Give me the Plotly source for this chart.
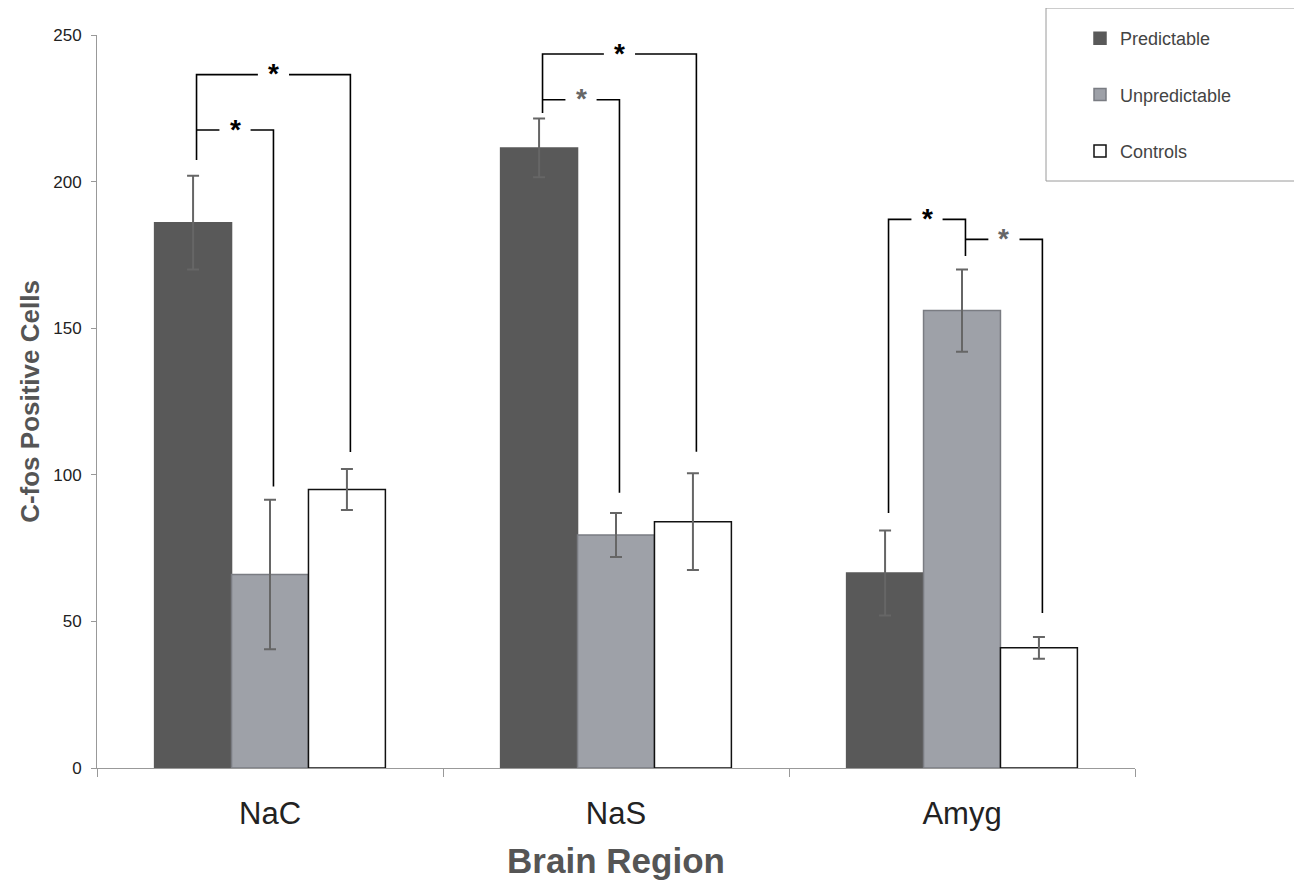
import plotly.graph_objects as go

regions = ["NaC", "NaS", "Amyg"]
series_names = ["Predictable", "Unpredictable", "Controls"]
values = {
    "Predictable": [186, 211.5, 66.5],
    "Unpredictable": [66, 79.5, 156],
    "Controls": [95, 84, 41],
}
errors = {
    "Predictable": [16, 10, 14.5],
    "Unpredictable": [25.5, 7.5, 14],
    "Controls": [7, 16.5, 3.7],
}
# significance brackets: (region index, from series, to series, top y, left-leg bottom y, right-leg bottom y, star colour)
brackets = [
    (0, 0, 2, 236.5, 207.4, 107.8, "black"),
    (0, 0, 1, 217.6, 217.6, 96.0, "black"),
    (1, 0, 2, 243.5, 223.4, 107.9, "black"),
    (1, 0, 1, 227.9, 227.9, 93.9, "#666666"),
    (2, 0, 1, 187.1, 87.0, 174.6, "black"),
    (2, 1, 2, 180.3, 180.3, 52.9, "#666666"),
]

fills = ["#595959", "#9ea1a8", "#ffffff"]
outlines = ["#595959", "#7a7c82", "#111111"]

FONT = "Liberation Sans, Arial, sans-serif"
# page body has an 8px margin, so the figure is sized/offset to compensate
W, H = 1294, 881
L, T = 89, 27
PW, PH = 1038, 733

fig = go.Figure()
for i, name in enumerate(series_names):
    fig.add_trace(go.Bar(
        name=name, x=regions, y=values[name],
        marker=dict(color=fills[i], line=dict(color=outlines[i], width=1.5)),
        error_y=dict(type="data", array=errors[name], visible=True,
                     color="#666666", thickness=2, width=6),
        legendgroup=name,
    ))

bar_w = (1 - 0.333) / 3
offsets = [-bar_w, 0, bar_w]
gap = 0.045
shapes = []
annotations = []
for (ri, s1, s2, top, lb, rb, sc) in brackets:
    x1 = ri + offsets[s1] + 0.01
    x2 = ri + offsets[s2] + 0.01
    xm = (x1 + x2) / 2
    path = (f"M {x1} {lb} L {x1} {top} L {xm - gap} {top} "
            f"M {xm + gap} {top} L {x2} {top} L {x2} {rb}")
    shapes.append(dict(type="path", path=path, xref="x", yref="y",
                       line=dict(color="black", width=1.6)))
    annotations.append(dict(x=xm, y=top, xref="x", yref="y", text="<b>*</b>",
                            showarrow=False, font=dict(size=28, color=sc, family=FONT),
                            yanchor="middle", yshift=1))

# legend frame (window px -> paper coords of plot area)
def px_x(x):
    return (x - 97) / PW

def px_y(y):
    return (768 - y) / PH

shapes.append(dict(type="rect", xref="paper", yref="paper",
                   x0=px_x(1046), x1=px_x(1296), y0=px_y(181), y1=px_y(8),
                   line=dict(color="#9a9a9a", width=1), fillcolor="rgba(0,0,0,0)"))

fig.update_layout(
    width=W, height=H,
    margin=dict(l=L, r=W - L - PW, t=T, b=H - T - PH),
    paper_bgcolor="white", plot_bgcolor="white",
    barmode="group", bargap=0.333, bargroupgap=0,
    font=dict(family=FONT, color="#222222"),
    shapes=shapes, annotations=annotations,
    legend=dict(x=px_x(1080), y=px_y(20), xanchor="left", yanchor="top",
                bgcolor="rgba(0,0,0,0)", borderwidth=0,
                font=dict(size=18, color="#444444", family=FONT),
                traceorder="grouped", tracegroupgap=30, itemwidth=30),
    xaxis=dict(
        type="category", tickson="boundaries", ticks="outside", ticklen=8,
        tickcolor="#999999", showline=True, linecolor="#999999", linewidth=1,
        tickfont=dict(size=31, color="#222222"), ticklabelstandoff=18,
        title=dict(text="<b>Brain Region</b>", font=dict(size=35, color="#555555"), standoff=18),
        showgrid=False,
    ),
    yaxis=dict(
        range=[0, 250], tickvals=[0, 50, 100, 150, 200, 250], ticks="outside", ticklen=5,
        tickcolor="#999999", showline=True, linecolor="#999999", linewidth=1,
        tickfont=dict(size=17, color="#222222"), ticklabelstandoff=6,
        title=dict(text="<b>C-fos Positive Cells</b>", font=dict(size=26, color="#555555"), standoff=6),
        showgrid=False, zeroline=False,
    ),
)

fig.write_html("out.html")
